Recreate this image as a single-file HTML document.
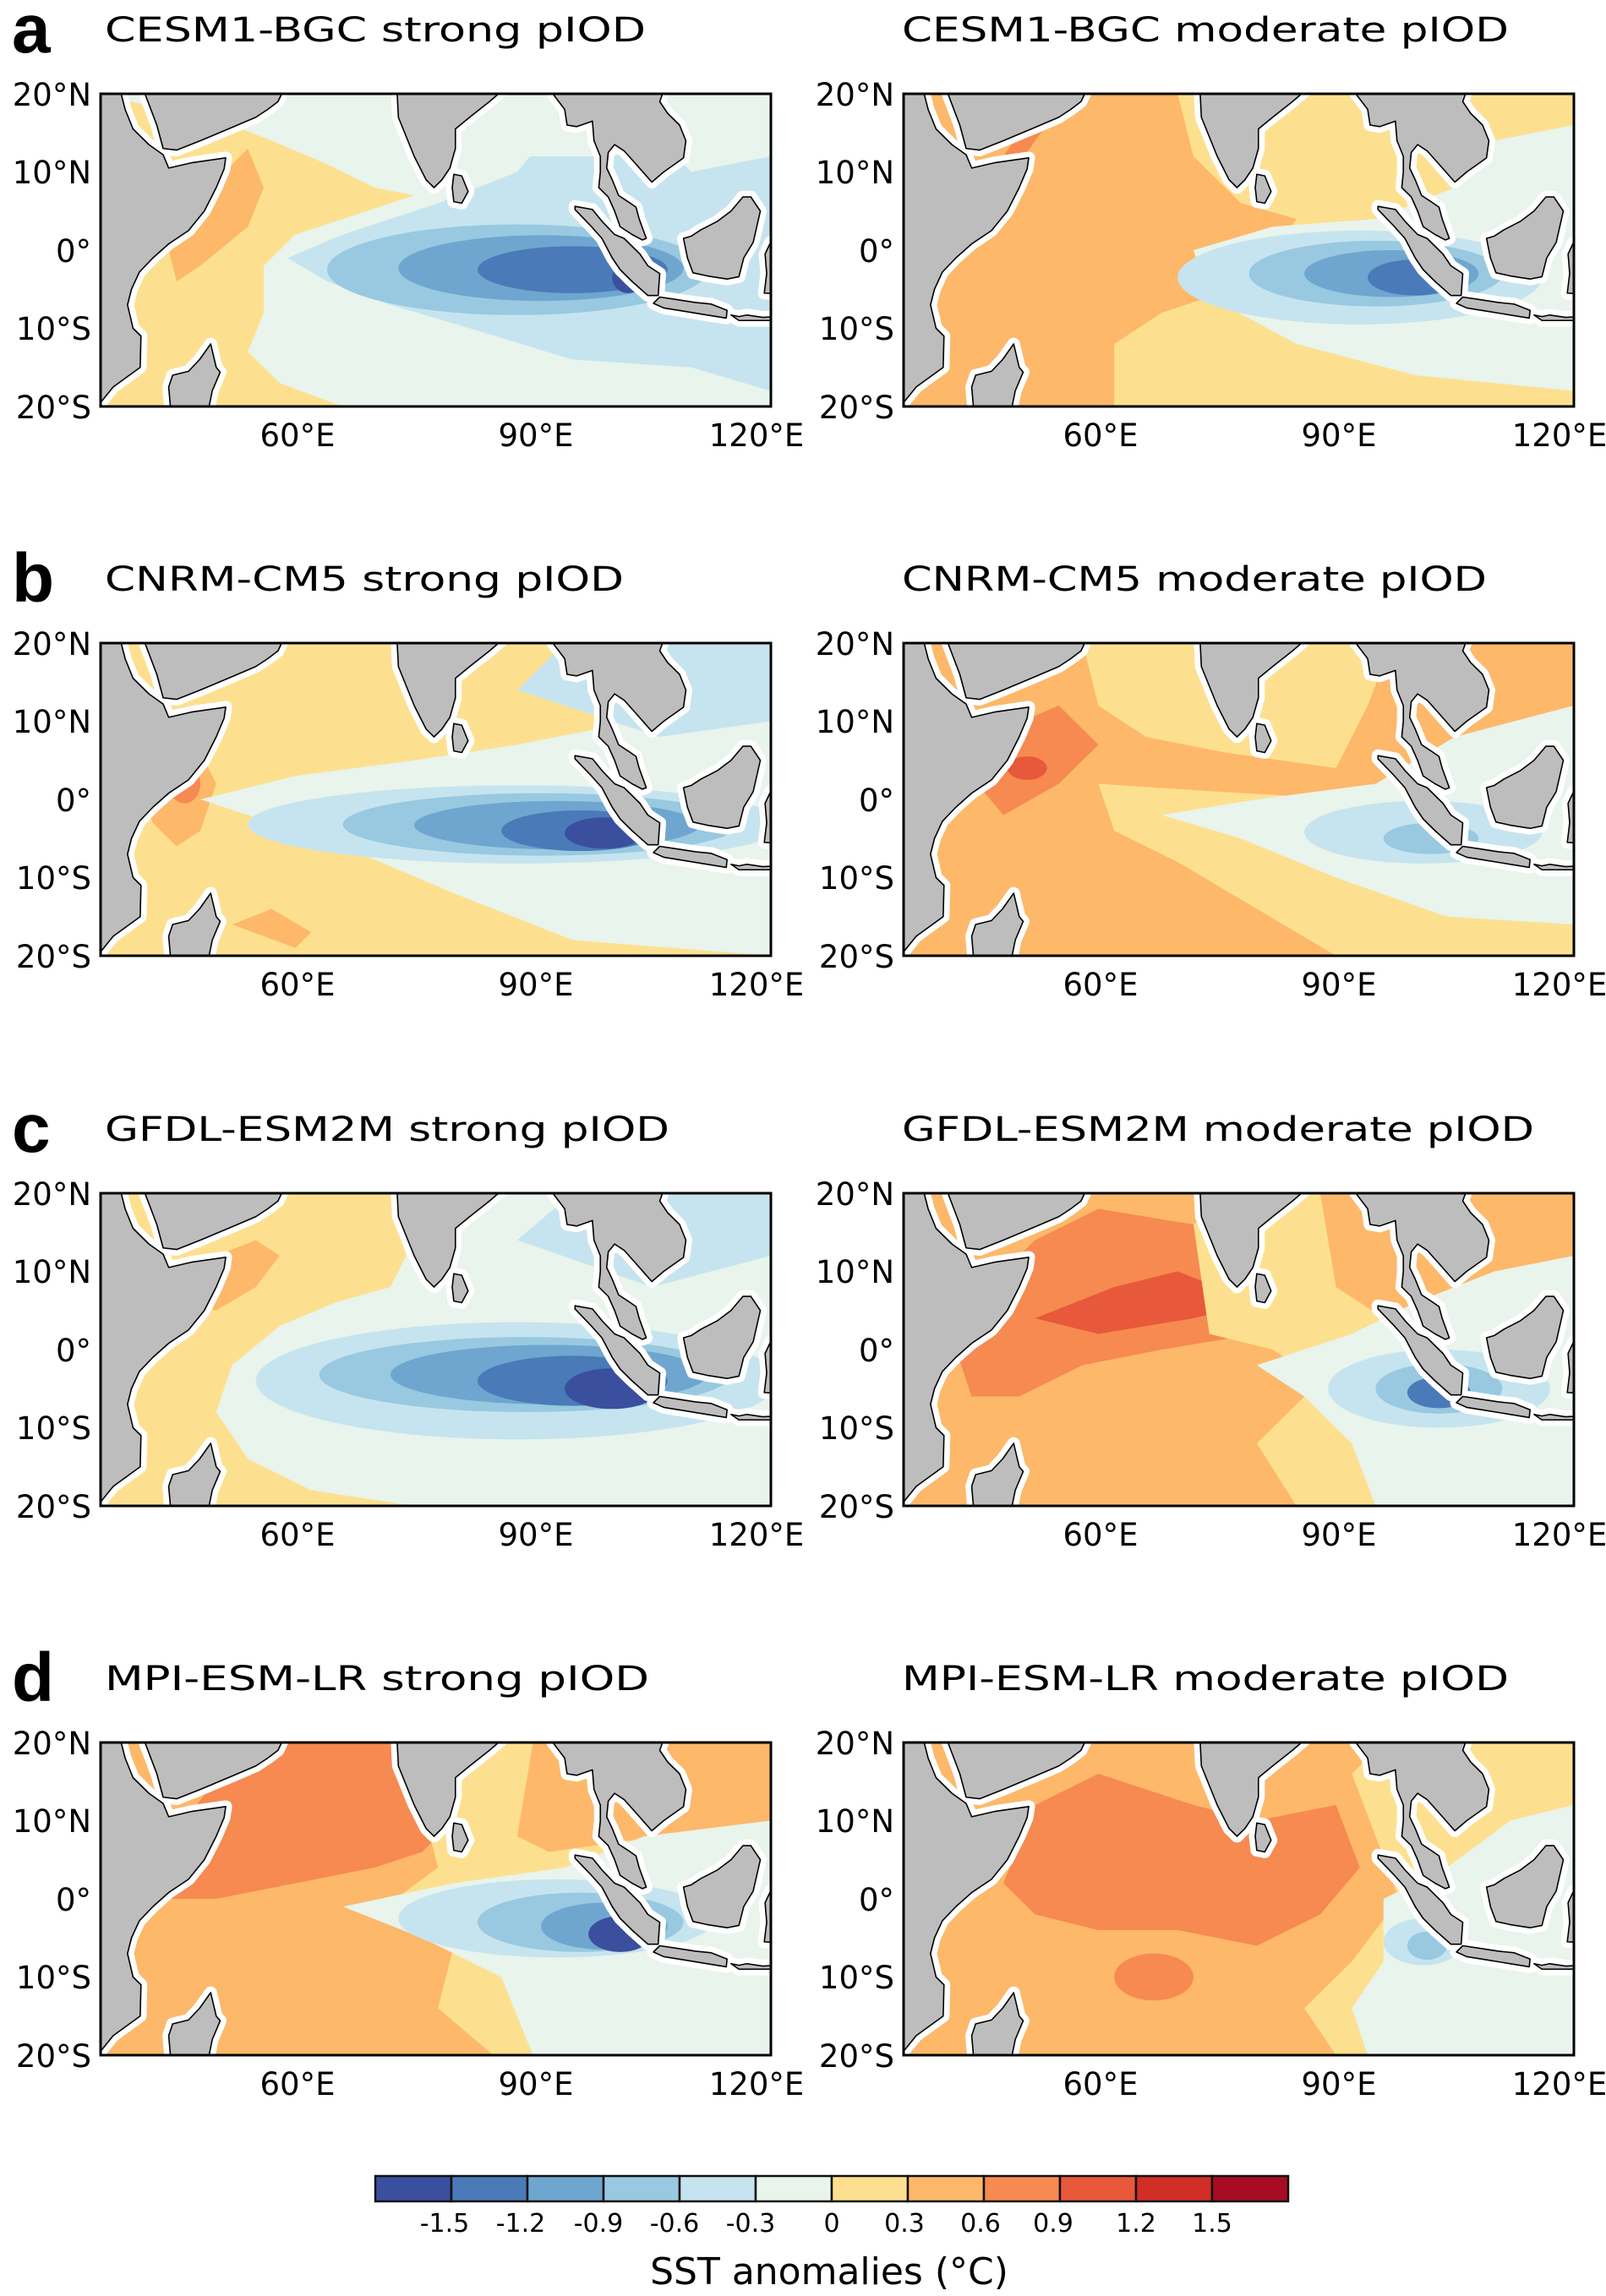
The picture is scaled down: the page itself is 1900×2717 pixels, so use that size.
<!DOCTYPE html>
<html><head><meta charset="utf-8"><style>html,body{margin:0;padding:0;background:#fff}svg{display:block}</style></head>
<body>
<svg width="1900" height="2717" viewBox="0 0 1900 2717" xmlns="http://www.w3.org/2000/svg" font-family="'DejaVu Sans','Liberation Sans',sans-serif">
<defs>
<clipPath id="cp"><rect x="35.4" y="-20" width="84.6" height="40"/></clipPath>
<g id="land">
 <g fill="#fff" stroke="#fff" stroke-width="1.6" stroke-linejoin="round">
  <polygon points="30,20 35.4,20 38,20 38.5,18 39.5,15.5 41.5,13.5 43.3,12.2 44,10.5 47,11.2 51.2,11.8 51,10.4 50,8 48.5,5 46.5,2.5 44,0.8 42,-1 40.3,-2.8 39.3,-5 38.8,-7 39.5,-10 40.5,-11 40.4,-15 37,-17.5 35.4,-19.5 30,-20"/>
  <polygon points="41,20 42.5,16 43.3,13 45,12.8 48,14 52,15.7 55,17 56.5,18 57.8,19 58.5,20.5 41,21"/>
  <polygon points="72.8,21 73,17 74,14.5 75,12 76.5,9 77.5,8 78.5,9 79.5,10.5 80.2,13 80.2,15.5 82,17 84.5,19 86.8,21"/>
  <polygon points="79.8,8 80,6.2 81,6 81.8,7.5 81,9.5 80,9.7"/>
  <polygon points="92.2,21 92.5,20 94,18 94.3,16 95.5,15.8 97.5,16.5 97.7,14 98.5,12 98.5,10 98.3,8 99.5,6.8 100.3,5 101,3 102.5,2 103.8,1.3 104.3,1.5 103.4,4 103,5.5 102,6.2 100.8,7 100,9 99.3,10.5 99.5,12.5 100.3,13.5 101.5,12.7 103,11 105,8.7 106.5,10 109,11.8 109.3,14 108.5,16 107,17.5 106,19 106.7,21"/>
  <polygon points="95.3,5.6 97.5,5.2 98.7,3.7 100.3,2 101.5,1.5 103.5,-0.5 104.5,-2 106,-3 105.8,-5.8 104.5,-5.8 102.5,-4 101,-2.5 100,-1 98.7,1.5 97.2,3.2 95.3,5.2"/>
  <polygon points="105.2,-6.8 106,-6 108,-6.3 110.5,-6.7 112.5,-6.9 114.5,-7.7 114.4,-8.7 112,-8.3 109,-7.8 106.5,-7.4"/>
  <polygon points="115,-8.3 116,-8.5 117,-8.3 119,-8.6 121,-8.5 121,-9 116,-9"/>
  <polygon points="109,1.5 109.5,-1 110.2,-2.9 112,-3.3 114.5,-3.7 116,-3.4 116.6,-1 117.8,1 118.7,5 117.5,6.8 116.5,6.8 115,5 113.3,3.7 111.2,2.6 110,1.8"/>
  <polygon points="121,1.5 120,1 119.3,-0.5 119.5,-3 119.2,-5.5 121,-5.6"/>
  <polygon points="44.3,-21 44,-17.5 44.5,-16 46.5,-15.5 47.9,-14 49.3,-12 50,-15 50.5,-15.6 49.5,-18 48.9,-21"/>
 </g>
 <g fill="#bdbdbd" stroke="#000" stroke-width="1.6" stroke-linejoin="round">
  <polygon vector-effect="non-scaling-stroke" points="30,20 35.4,20 38,20 38.5,18 39.5,15.5 41.5,13.5 43.3,12.2 44,10.5 47,11.2 51.2,11.8 51,10.4 50,8 48.5,5 46.5,2.5 44,0.8 42,-1 40.3,-2.8 39.3,-5 38.8,-7 39.5,-10 40.5,-11 40.4,-15 37,-17.5 35.4,-19.5 30,-20"/>
  <polygon vector-effect="non-scaling-stroke" points="41,20 42.5,16 43.3,13 45,12.8 48,14 52,15.7 55,17 56.5,18 57.8,19 58.5,20.5 41,21"/>
  <polygon vector-effect="non-scaling-stroke" points="72.8,21 73,17 74,14.5 75,12 76.5,9 77.5,8 78.5,9 79.5,10.5 80.2,13 80.2,15.5 82,17 84.5,19 86.8,21"/>
  <polygon vector-effect="non-scaling-stroke" points="79.8,8 80,6.2 81,6 81.8,7.5 81,9.5 80,9.7"/>
  <polygon vector-effect="non-scaling-stroke" points="92.2,21 92.5,20 94,18 94.3,16 95.5,15.8 97.5,16.5 97.7,14 98.5,12 98.5,10 98.3,8 99.5,6.8 100.3,5 101,3 102.5,2 103.8,1.3 104.3,1.5 103.4,4 103,5.5 102,6.2 100.8,7 100,9 99.3,10.5 99.5,12.5 100.3,13.5 101.5,12.7 103,11 105,8.7 106.5,10 109,11.8 109.3,14 108.5,16 107,17.5 106,19 106.7,21"/>
  <polygon vector-effect="non-scaling-stroke" points="95.3,5.6 97.5,5.2 98.7,3.7 100.3,2 101.5,1.5 103.5,-0.5 104.5,-2 106,-3 105.8,-5.8 104.5,-5.8 102.5,-4 101,-2.5 100,-1 98.7,1.5 97.2,3.2 95.3,5.2"/>
  <polygon vector-effect="non-scaling-stroke" points="105.2,-6.8 106,-6 108,-6.3 110.5,-6.7 112.5,-6.9 114.5,-7.7 114.4,-8.7 112,-8.3 109,-7.8 106.5,-7.4"/>
  <polygon vector-effect="non-scaling-stroke" points="115,-8.3 116,-8.5 117,-8.3 119,-8.6 121,-8.5 121,-9 116,-9"/>
  <polygon vector-effect="non-scaling-stroke" points="109,1.5 109.5,-1 110.2,-2.9 112,-3.3 114.5,-3.7 116,-3.4 116.6,-1 117.8,1 118.7,5 117.5,6.8 116.5,6.8 115,5 113.3,3.7 111.2,2.6 110,1.8"/>
  <polygon vector-effect="non-scaling-stroke" points="121,1.5 120,1 119.3,-0.5 119.5,-3 119.2,-5.5 121,-5.6"/>
  <polygon vector-effect="non-scaling-stroke" points="44.3,-21 44,-17.5 44.5,-16 46.5,-15.5 47.9,-14 49.3,-12 50,-15 50.5,-15.6 49.5,-18 48.9,-21"/>
 </g>
</g>
</defs>

<!-- ===== Row a ===== -->
<text x="14" y="62" font-size="82" font-weight="bold" font-family="'Liberation Sans',sans-serif">a</text>
<text x="124" y="49" font-size="40" textLength="640" lengthAdjust="spacingAndGlyphs">CESM1-BGC strong pIOD</text>
<text x="1067" y="49" font-size="40" textLength="718" lengthAdjust="spacingAndGlyphs">CESM1-BGC moderate pIOD</text>

<g transform="translate(-212.7,296) scale(9.37,-9.25)" clip-path="url(#cp)">
 <rect x="35" y="-21" width="86" height="42" fill="#e8f4ec"/>
 <path d="M35,-20 L35,20 L52,16 L57,14 L64,11 L70,8 L75,7 L66,4 L60,2 L56,-2 L56,-8 L54,-13 L58,-17 L66,-20 Z" fill="#fde08f"/>
 <path d="M44,0 L48,5 L52,11 L54,13 L56,8 L54,3 L48,-2 L45,-4 Z" fill="#fdb86a"/>
 <path d="M59,-1 L66,2 L78,6 L88,10 L92,15 L105,15 L110,10 L120,12 L120,-18 L110,-15 L95,-14 L82,-10 L72,-7 L64,-4 Z" fill="#c6e4ef"/>
 <path d="M88,12 L100,12 L108,14 L120,17 L120,20 L88,20 Z" fill="#e8f4ec"/>
 <ellipse cx="88" cy="-2.5" rx="24" ry="5.8" fill="#98c9e0"/>
 <ellipse cx="91" cy="-2.3" rx="18" ry="4.2" fill="#6fa6cf"/>
 <ellipse cx="95" cy="-2.5" rx="12" ry="3" fill="#4a7ab8"/>
 <ellipse cx="102" cy="-3.5" rx="2" ry="2" fill="#3a4f9e"/>
 <use href="#land"/>
</g>
<g transform="translate(737.3,296) scale(9.37,-9.25)" clip-path="url(#cp)">
 <rect x="35" y="-21" width="86" height="42" fill="#fdb86a"/>
 <path d="M70,20 L72,12 L78,6 L85,4 L80,-4 L68,-8 L62,-12 L62,-20 L120,-20 L120,20 Z" fill="#fde08f"/>
 <path d="M42,8 L48,8 L52,14 L55,18 L52,18 L48,12 Z" fill="#f68a50"/>
 <path d="M72,0 L82,3 L95,4 L105,8 L110,14 L120,16 L120,-18 L100,-16 L85,-12 L74,-6 Z" fill="#e8f4ec"/>
 <ellipse cx="93" cy="-3.5" rx="23" ry="6" fill="#c6e4ef"/>
 <ellipse cx="95" cy="-3" rx="16" ry="4.2" fill="#98c9e0"/>
 <ellipse cx="97" cy="-3" rx="11" ry="3" fill="#6fa6cf"/>
 <ellipse cx="100" cy="-3.5" rx="6" ry="2.3" fill="#4a7ab8"/>
 <use href="#land"/>
</g>

<!-- ===== Row b ===== -->
<text x="14" y="712" font-size="82" font-weight="bold" font-family="'Liberation Sans',sans-serif">b</text>
<text x="124" y="699" font-size="40" textLength="614" lengthAdjust="spacingAndGlyphs">CNRM-CM5 strong pIOD</text>
<text x="1067" y="699" font-size="40" textLength="692" lengthAdjust="spacingAndGlyphs">CNRM-CM5 moderate pIOD</text>

<g transform="translate(-212.7,946) scale(9.37,-9.25)" clip-path="url(#cp)">
 <rect x="35" y="-21" width="86" height="42" fill="#fde08f"/>
 <path d="M41,0 L44,5 L48,6 L50,2 L48,-4 L45,-6 L42,-3 Z" fill="#fdb86a"/>
 <ellipse cx="46" cy="2" rx="2" ry="2.5" fill="#f68a50"/>
 <path d="M52,-16 L57,-14 L62,-17 L60,-19 Z" fill="#fdb86a"/>
 <path d="M48,0 L60,3 L75,5 L88,7 L98,9 L106,14 L120,16 L120,-20 L95,-18 L80,-12 L66,-6 L54,-2 Z" fill="#e8f4ec"/>
 <path d="M88,14 L94,20 L120,20 L120,10 L106,8 Z" fill="#c6e4ef"/>
 <ellipse cx="88" cy="-3.2" rx="34" ry="5" fill="#c6e4ef"/>
 <ellipse cx="91" cy="-3.2" rx="25" ry="4" fill="#98c9e0"/>
 <ellipse cx="93" cy="-3.3" rx="18" ry="3.1" fill="#6fa6cf"/>
 <ellipse cx="96" cy="-4" rx="10" ry="2.6" fill="#4a7ab8"/>
 <ellipse cx="99" cy="-4.3" rx="5" ry="2" fill="#3a4f9e"/>
 <use href="#land"/>
</g>
<g transform="translate(737.3,946) scale(9.37,-9.25)" clip-path="url(#cp)">
 <rect x="35" y="-21" width="86" height="42" fill="#fdb86a"/>
 <path d="M58,20 L60,12 L66,8 L76,6 L90,4 L94,12 L97,20 Z" fill="#fde08f"/>
 <path d="M60,2 L75,1 L92,0 L110,-4 L120,-6 L120,-20 L90,-20 L80,-14 L70,-8 L62,-4 Z" fill="#fde08f"/>
 <path d="M43,4 L48,9 L55,12 L60,7 L55,2 L48,-2 Z" fill="#f68a50"/>
 <ellipse cx="51" cy="4" rx="2.5" ry="1.5" fill="#e8583a"/>
 <path d="M68,-2 L80,0 L95,2 L105,8 L120,12 L120,-16 L104,-15 L90,-10 L78,-5 Z" fill="#e8f4ec"/>
 <ellipse cx="101" cy="-4.2" rx="15" ry="4" fill="#c6e4ef"/>
 <ellipse cx="102" cy="-5" rx="6" ry="2" fill="#98c9e0"/>
 <use href="#land"/>
</g>

<!-- ===== Row c ===== -->
<text x="14" y="1363" font-size="82" font-weight="bold" font-family="'Liberation Sans',sans-serif">c</text>
<text x="124" y="1350" font-size="40" textLength="668" lengthAdjust="spacingAndGlyphs">GFDL-ESM2M strong pIOD</text>
<text x="1067" y="1350" font-size="40" textLength="748" lengthAdjust="spacingAndGlyphs">GFDL-ESM2M moderate pIOD</text>

<g transform="translate(-212.7,1597) scale(9.37,-9.25)" clip-path="url(#cp)">
 <rect x="35" y="-21" width="86" height="42" fill="#e8f4ec"/>
 <path d="M35,-20 L35,20 L72,20 L74,12 L72,8 L65,6 L58,3 L52,-2 L50,-8 L54,-14 L62,-18 L75,-20 Z" fill="#fde08f"/>
 <path d="M46,6 L50,12 L55,14 L58,12 L55,8 L50,5 Z" fill="#fdb86a"/>
 <path d="M88,14 L95,20 L120,20 L120,12 L105,8 Z" fill="#c6e4ef"/>
 <ellipse cx="88" cy="-4" rx="33" ry="7.5" fill="#c6e4ef"/>
 <ellipse cx="89" cy="-3.2" rx="26" ry="4.8" fill="#98c9e0"/>
 <ellipse cx="92" cy="-3.2" rx="20" ry="3.8" fill="#6fa6cf"/>
 <ellipse cx="95" cy="-4" rx="12" ry="3.2" fill="#4a7ab8"/>
 <ellipse cx="100" cy="-5" rx="6" ry="2.6" fill="#3a4f9e"/>
 <use href="#land"/>
</g>
<g transform="translate(737.3,1597) scale(9.37,-9.25)" clip-path="url(#cp)">
 <rect x="35" y="-21" width="86" height="42" fill="#fdb86a"/>
 <path d="M42,0 L46,8 L52,14 L60,18 L72,16 L76,6 L84,4 L80,2 L68,0 L58,-2 L50,-6 L44,-6 Z" fill="#f68a50"/>
 <path d="M52,4 L62,8 L70,10 L80,6 L72,4 L60,2 Z" fill="#e8583a"/>
 <path d="M72,16 L78,20 L88,20 L90,8 L96,4 L110,10 L120,10 L120,-20 L85,-20 L80,-12 L88,-4 L82,0 L74,2 Z" fill="#fde08f"/>
 <path d="M80,-2 L92,2 L100,6 L110,10 L120,12 L120,-20 L95,-20 L92,-12 L86,-6 Z" fill="#e8f4ec"/>
 <ellipse cx="103" cy="-5" rx="14" ry="5" fill="#c6e4ef"/>
 <ellipse cx="103" cy="-5" rx="8" ry="3.2" fill="#98c9e0"/>
 <ellipse cx="103" cy="-5.5" rx="4" ry="2" fill="#4a7ab8"/>
 <use href="#land"/>
</g>

<!-- ===== Row d ===== -->
<text x="14" y="2013" font-size="82" font-weight="bold" font-family="'Liberation Sans',sans-serif">d</text>
<text x="124" y="2000" font-size="40" textLength="644" lengthAdjust="spacingAndGlyphs">MPI-ESM-LR strong pIOD</text>
<text x="1067" y="2000" font-size="40" textLength="718" lengthAdjust="spacingAndGlyphs">MPI-ESM-LR moderate pIOD</text>

<g transform="translate(-212.7,2247) scale(9.37,-9.25)" clip-path="url(#cp)">
 <rect x="35" y="-21" width="86" height="42" fill="#fdb86a"/>
 <path d="M42,0 L46,10 L52,18 L60,20 L72,20 L76,12 L80,10 L76,6 L70,4 L60,2 L50,0 Z" fill="#f68a50"/>
 <path d="M76,12 L80,20 L90,20 L88,8 L92,6 L120,10 L120,-20 L85,-20 L78,-14 L80,-6 L70,-2 L78,4 Z" fill="#fde08f"/>
 <path d="M66,-1 L80,2 L94,4 L104,8 L120,10 L120,-20 L90,-20 L86,-10 L76,-5 Z" fill="#e8f4ec"/>
 <ellipse cx="93" cy="-2.5" rx="20" ry="5" fill="#c6e4ef"/>
 <ellipse cx="96" cy="-3" rx="13" ry="3.8" fill="#98c9e0"/>
 <ellipse cx="99" cy="-3.5" rx="8" ry="3" fill="#6fa6cf"/>
 <ellipse cx="101" cy="-4.5" rx="4" ry="2.3" fill="#3a4f9e"/>
 <use href="#land"/>
</g>
<g transform="translate(737.3,2247) scale(9.37,-9.25)" clip-path="url(#cp)">
 <rect x="35" y="-21" width="86" height="42" fill="#fdb86a"/>
 <path d="M48,2 L52,12 L60,16 L72,12 L80,10 L90,12 L93,4 L88,-2 L80,-6 L70,-4 L60,-4 L52,-2 Z" fill="#f68a50"/>
 <ellipse cx="67" cy="-10" rx="5" ry="3" fill="#f68a50"/>
 <path d="M92,16 L96,20 L120,20 L120,-20 L90,-20 L86,-14 L92,-8 L98,0 Z" fill="#fde08f"/>
 <path d="M96,0 L104,4 L112,10 L120,12 L120,-20 L94,-20 L92,-14 L96,-8 Z" fill="#e8f4ec"/>
 <ellipse cx="101" cy="-5.5" rx="5" ry="3" fill="#c6e4ef"/>
 <ellipse cx="101.5" cy="-6" rx="2.5" ry="1.8" fill="#98c9e0"/>
 <use href="#land"/>
</g>

<!-- frames, ticks & labels -->
<g fill="none" stroke="#000" stroke-width="3">
 <rect x="119" y="111" width="793" height="370"/><rect x="1069" y="111" width="793" height="370"/>
 <rect x="119" y="761" width="793" height="370"/><rect x="1069" y="761" width="793" height="370"/>
 <rect x="119" y="1412" width="793" height="370"/><rect x="1069" y="1412" width="793" height="370"/>
 <rect x="119" y="2062" width="793" height="370"/><rect x="1069" y="2062" width="793" height="370"/>
</g>
<g font-size="37">
 <g text-anchor="end"><text x="108" y="125">20°N</text><text x="108" y="217">10°N</text><text x="108" y="310">0°</text><text x="108" y="402">10°S</text><text x="108" y="495">20°S</text></g>
 <g text-anchor="end"><text x="1058" y="125">20°N</text><text x="1058" y="217">10°N</text><text x="1058" y="310">0°</text><text x="1058" y="402">10°S</text><text x="1058" y="495">20°S</text></g>
 <g text-anchor="middle"><text x="352" y="528">60°E</text><text x="634" y="528">90°E</text><text x="895" y="528">120°E</text><text x="1302" y="528">60°E</text><text x="1584" y="528">90°E</text><text x="1845" y="528">120°E</text></g>
 <g text-anchor="end"><text x="108" y="775">20°N</text><text x="108" y="867">10°N</text><text x="108" y="960">0°</text><text x="108" y="1052">10°S</text><text x="108" y="1145">20°S</text></g>
 <g text-anchor="end"><text x="1058" y="775">20°N</text><text x="1058" y="867">10°N</text><text x="1058" y="960">0°</text><text x="1058" y="1052">10°S</text><text x="1058" y="1145">20°S</text></g>
 <g text-anchor="middle"><text x="352" y="1178">60°E</text><text x="634" y="1178">90°E</text><text x="895" y="1178">120°E</text><text x="1302" y="1178">60°E</text><text x="1584" y="1178">90°E</text><text x="1845" y="1178">120°E</text></g>
 <g text-anchor="end"><text x="108" y="1426">20°N</text><text x="108" y="1518">10°N</text><text x="108" y="1611">0°</text><text x="108" y="1703">10°S</text><text x="108" y="1796">20°S</text></g>
 <g text-anchor="end"><text x="1058" y="1426">20°N</text><text x="1058" y="1518">10°N</text><text x="1058" y="1611">0°</text><text x="1058" y="1703">10°S</text><text x="1058" y="1796">20°S</text></g>
 <g text-anchor="middle"><text x="352" y="1829">60°E</text><text x="634" y="1829">90°E</text><text x="895" y="1829">120°E</text><text x="1302" y="1829">60°E</text><text x="1584" y="1829">90°E</text><text x="1845" y="1829">120°E</text></g>
 <g text-anchor="end"><text x="108" y="2076">20°N</text><text x="108" y="2168">10°N</text><text x="108" y="2261">0°</text><text x="108" y="2353">10°S</text><text x="108" y="2446">20°S</text></g>
 <g text-anchor="end"><text x="1058" y="2076">20°N</text><text x="1058" y="2168">10°N</text><text x="1058" y="2261">0°</text><text x="1058" y="2353">10°S</text><text x="1058" y="2446">20°S</text></g>
 <g text-anchor="middle"><text x="352" y="2479">60°E</text><text x="634" y="2479">90°E</text><text x="895" y="2479">120°E</text><text x="1302" y="2479">60°E</text><text x="1584" y="2479">90°E</text><text x="1845" y="2479">120°E</text></g>
</g>

<!-- colorbar -->
<g stroke="#111" stroke-width="2.5">
 <rect x="444" y="2575" width="90" height="30" fill="#3a4f9e"/>
 <rect x="534" y="2575" width="90" height="30" fill="#4a7ab8"/>
 <rect x="624" y="2575" width="90" height="30" fill="#6fa6cf"/>
 <rect x="714" y="2575" width="90" height="30" fill="#98c9e0"/>
 <rect x="804" y="2575" width="90" height="30" fill="#c6e4ef"/>
 <rect x="894" y="2575" width="90" height="30" fill="#e8f4ec"/>
 <rect x="984" y="2575" width="90" height="30" fill="#fde08f"/>
 <rect x="1074" y="2575" width="90" height="30" fill="#fdb86a"/>
 <rect x="1164" y="2575" width="90" height="30" fill="#f68a50"/>
 <rect x="1254" y="2575" width="90" height="30" fill="#e8583a"/>
 <rect x="1344" y="2575" width="90" height="30" fill="#d12e27"/>
 <rect x="1434" y="2575" width="90" height="30" fill="#a80c24"/>
</g>
<g font-size="30" text-anchor="middle">
 <text x="526" y="2641">-1.5</text><text x="616" y="2641">-1.2</text><text x="708" y="2641">-0.9</text><text x="798" y="2641">-0.6</text><text x="888" y="2641">-0.3</text><text x="984" y="2641">0</text><text x="1070" y="2641">0.3</text><text x="1160" y="2641">0.6</text><text x="1246" y="2641">0.9</text><text x="1344" y="2641">1.2</text><text x="1434" y="2641">1.5</text>
</g>
<text x="981" y="2703" font-size="44" text-anchor="middle">SST anomalies (°C)</text>
</svg>
</body></html>
